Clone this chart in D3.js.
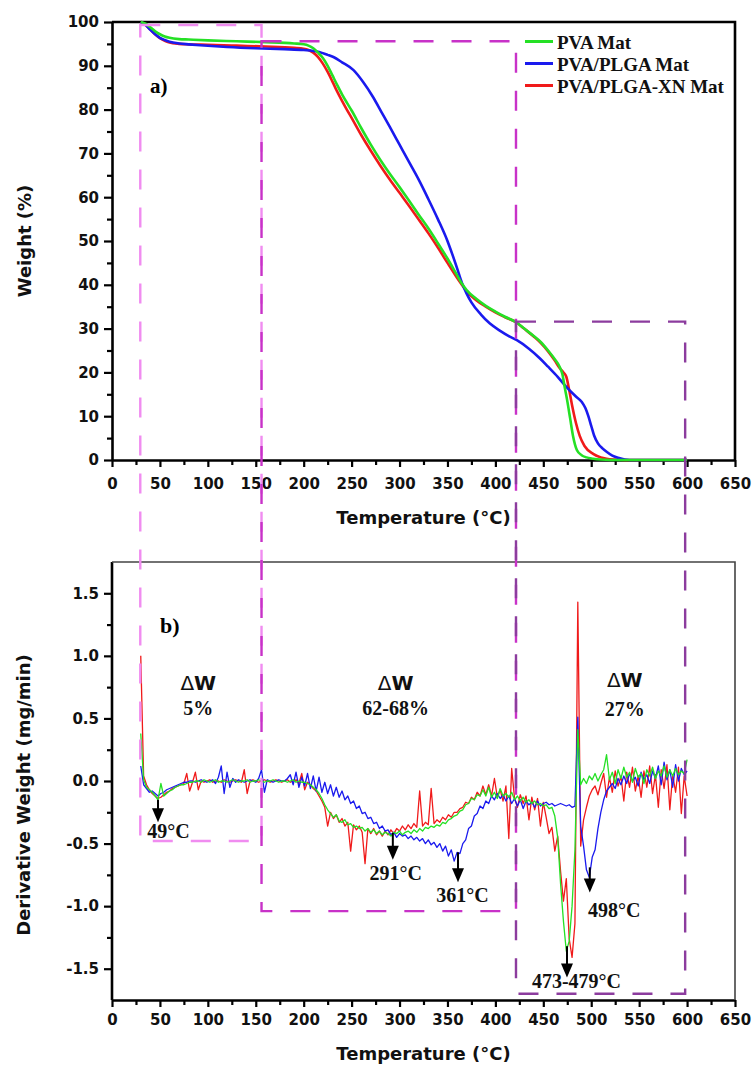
<!DOCTYPE html>
<html><head><meta charset="utf-8">
<script src="https://cdn.jsdelivr.net/npm/d3@7"></script>
<style>body{margin:0;background:#fff}svg{display:block}</style>
</head><body>
<svg id="c" width="752" height="1067"></svg>
<script>
// ---------- DATA ----------
const xTicks = [0,50,100,150,200,250,300,350,400,450,500,550,600,650];
const tgaYTicks = [0,10,20,30,40,50,60,70,80,90,100];
const dtgYTicks = [-1.5,-1.0,-0.5,0.0,0.5,1.0,1.5];
const seriesNames = ["PVA Mat","PVA/PLGA Mat","PVA/PLGA-XN Mat"];

// TGA curves [temperature °C, weight %]
const tgaPVA = [[30,100],[35,99.6],[40,98.8],[45,97.9],[50,97.2],[55,96.7],[60,96.4],[70,96.1],[80,96.0],[100,95.8],[130,95.6],[160,95.4],[190,95.1],[200,94.9],[205,94.6],[210,94.0],[215,93.0],[220,91.8],[225,90.0],[230,87.8],[235,85.6],[240,83.5],[245,81.6],[250,79.8],[260,75.8],[270,72.0],[280,68.5],[290,65.3],[300,62.3],[310,59.2],[320,56.0],[330,52.9],[340,49.5],[350,46.0],[360,42.2],[365,40.3],[370,38.8],[380,36.8],[390,35.2],[400,33.9],[410,32.7],[422,31.4],[430,30.0],[440,28.3],[447,27.0],[455,25.0],[462,23.0],[467,21.3],[470,19.5],[472,17.0],[475,13.5],[478,9.5],[481,5.5],[485,2.3],[490,1.1],[495,0.6],[502,0.3],[510,0.1],[520,0],[600,0]];
const tgaPLGA = [[30,100],[35,99.3],[40,98.2],[45,97.2],[50,96.4],[55,95.9],[60,95.5],[70,95.1],[80,94.9],[92,94.7],[120,94.3],[150,94.0],[180,93.8],[200,93.6],[215,93.2],[225,92.5],[231,92.0],[240,90.8],[252,89.0],[262,86.3],[272,83.0],[281,79.5],[290,76.0],[300,72.0],[310,68.0],[320,64.0],[330,59.6],[340,55.0],[350,50.0],[355,47.0],[360,43.8],[365,40.5],[370,38.0],[375,36.0],[385,33.2],[394,31.2],[405,29.5],[414,28.3],[422,27.4],[435,25.4],[446,23.3],[455,21.3],[465,19.0],[474,16.7],[484,14.5],[490,13.3],[494,11.8],[497,10.0],[500,7.8],[503,5.6],[507,3.8],[512,2.6],[516,1.9],[522,1.0],[528,0.5],[535,0.1],[540,0],[600,0]];
const tgaXN = [[30,100],[35,99.4],[40,98.3],[45,97.2],[50,96.3],[55,95.7],[60,95.3],[70,95.0],[80,94.9],[100,94.8],[130,94.6],[160,94.4],[190,94.1],[200,93.9],[205,93.6],[210,93.0],[215,92.0],[220,90.5],[225,88.6],[230,86.4],[235,84.1],[240,82.0],[245,80.0],[250,78.1],[260,74.2],[270,70.6],[280,67.2],[290,64.0],[300,61.0],[310,58.0],[320,54.9],[330,51.8],[340,48.5],[350,45.0],[360,41.6],[365,40.0],[370,38.5],[380,36.5],[390,35.0],[400,33.7],[410,32.6],[422,31.4],[430,30.0],[440,28.2],[447,26.8],[455,24.8],[462,22.7],[467,21.0],[471,20.0],[474,19.0],[477,16.0],[480,12.5],[484,8.5],[488,5.5],[493,3.2],[502,1.4],[510,0.6],[516,0.3],[525,0.1],[535,0],[600,0]];

// DTG curves (derivative weight, mg/min) sampled at these temperatures
const dtgTemps = [30,33,36,39,42,45,48,51,54,57,
 60,63,66,69,72,75,78,81,84,87,
 90,93,96,99,102,105,108,111,114,117,
 120,123,126,129,132,135,138,141,144,147,
 150,153,156,159,162,165,168,171,174,177,
 180,183,186,189,192,195,198,201,204,207,
 210,213,216,219,222,225,228,231,234,237,
 240,243,246,249,252,255,258,261,264,267,
 270,273,276,279,282,285,288,291,294,297,
 300,303,306,309,312,315,318,321,324,327,
 330,333,336,339,342,345,348,351,354,357,
 360,363,366,369,372,375,378,381,384,387,
 390,393,396,399,402,405,408,411,414,417,
 420,423,426,429,432,435,438,441,444,447,
 450,453,456,459,462,465,468,471,474,477,
 480,483,486,489,492,495,498,501,504,507,
 510,513,516,519,522,525,528,531,534,537,
 540,543,546,549,552,555,558,561,564,567,
 570,573,576,579,582,585,588,591,594,597,
 600];
const dtgPVA = [0.38,0.01,-0.05,-0.07,-0.09,-0.12,-0.15,-0.02,-0.12,-0.10,
 -0.08,-0.07,-0.05,-0.04,-0.03,-0.03,-0.02,-0.01,-0.01,0.00,
 0.00,-0.01,0.01,0.00,-0.01,0.00,0.01,-0.01,0.00,0.00,
 -0.01,0.00,0.01,0.00,-0.01,0.00,0.00,0.01,-0.01,0.00,
 0.00,0.01,0.00,-0.01,0.00,0.00,0.01,0.00,-0.01,0.00,
 0.00,-0.01,0.00,0.01,-0.01,0.00,-0.01,-0.01,-0.02,-0.03,
 -0.05,-0.07,-0.10,-0.14,-0.19,-0.23,-0.26,-0.29,-0.27,-0.32,
 -0.33,-0.31,-0.35,-0.34,-0.37,-0.36,-0.38,-0.37,-0.40,-0.38,
 -0.41,-0.39,-0.42,-0.40,-0.43,-0.41,-0.42,-0.44,-0.41,-0.42,
 -0.40,-0.43,-0.41,-0.40,-0.42,-0.39,-0.41,-0.38,-0.40,-0.37,
 -0.38,-0.36,-0.37,-0.35,-0.36,-0.33,-0.34,-0.31,-0.30,-0.28,
 -0.27,-0.24,-0.23,-0.19,-0.18,-0.14,-0.15,-0.11,-0.12,-0.07,
 -0.12,-0.05,-0.13,-0.09,-0.14,-0.06,-0.12,-0.10,-0.13,-0.09,
 -0.15,-0.12,-0.16,-0.13,-0.17,-0.15,-0.18,-0.16,-0.19,-0.18,
 -0.20,-0.19,-0.22,-0.21,-0.28,-0.45,-0.82,-1.12,-1.36,-1.28,
 -1.00,-0.55,0.41,-0.03,0.02,-0.02,0.04,0.01,0.06,0.00,
 0.05,0.09,0.21,0.01,0.07,-0.02,0.09,0.02,0.11,0.03,
 0.07,-0.01,0.10,0.03,0.06,-0.02,0.09,0.04,0.11,0.02,
 0.08,0.04,0.12,0.03,0.09,0.04,0.10,0.05,0.08,0.06,
 0.17];
const dtgPLGA = [0.12,-0.03,-0.06,-0.09,-0.08,-0.10,-0.12,-0.10,-0.09,-0.07,
 -0.06,-0.05,-0.04,-0.03,-0.02,-0.01,-0.01,0.00,0.00,-0.01,
 0.00,0.01,0.00,-0.01,0.00,0.01,-0.02,0.03,0.12,-0.10,
 0.07,-0.05,0.02,-0.01,0.01,0.00,-0.01,0.00,0.01,0.00,
 -0.01,0.02,0.09,-0.09,0.01,0.00,-0.01,0.00,0.01,0.00,
 0.00,0.02,0.05,-0.03,0.07,-0.05,0.03,-0.04,0.06,-0.06,
 0.04,-0.08,0.03,-0.09,-0.01,-0.10,-0.03,-0.12,-0.05,-0.13,
 -0.08,-0.15,-0.12,-0.18,-0.16,-0.22,-0.20,-0.26,-0.25,-0.30,
 -0.29,-0.34,-0.33,-0.38,-0.36,-0.40,-0.39,-0.43,-0.41,-0.45,
 -0.42,-0.44,-0.43,-0.46,-0.44,-0.47,-0.45,-0.48,-0.46,-0.50,
 -0.47,-0.51,-0.49,-0.53,-0.50,-0.56,-0.52,-0.60,-0.55,-0.64,
 -0.57,-0.58,-0.50,-0.47,-0.38,-0.36,-0.28,-0.26,-0.20,-0.22,
 -0.16,-0.18,-0.12,-0.15,-0.10,-0.14,-0.11,-0.16,-0.12,-0.18,
 -0.14,-0.20,-0.15,-0.22,-0.16,-0.19,-0.17,-0.21,-0.16,-0.20,
 -0.18,-0.17,-0.19,-0.18,-0.20,-0.19,-0.18,-0.19,-0.20,-0.19,
 -0.21,-0.20,0.51,-0.36,-0.52,-0.71,-0.77,-0.61,-0.55,-0.38,
 -0.25,-0.15,-0.08,-0.05,-0.02,-0.06,0.02,-0.03,0.04,-0.02,
 0.06,0.00,0.03,-0.04,0.07,0.01,0.05,-0.02,0.08,0.02,
 0.12,-0.03,0.15,0.01,0.09,-0.05,0.13,0.00,0.10,0.05,
 0.08];
const dtgXN = [1.00,0.04,-0.03,-0.07,-0.10,-0.12,-0.14,-0.13,-0.11,-0.09,
 -0.08,-0.06,-0.05,-0.04,-0.03,-0.02,0.06,-0.08,-0.01,0.07,
 -0.07,0.00,-0.01,0.00,0.01,-0.01,0.00,0.00,-0.01,0.01,
 0.00,-0.01,0.00,0.01,0.00,-0.01,0.09,-0.10,0.00,0.01,
 0.00,-0.01,0.00,0.01,0.00,-0.01,0.00,0.01,0.00,-0.01,
 0.00,0.01,-0.01,0.00,0.01,-0.02,0.06,-0.07,-0.01,-0.03,
 -0.06,-0.08,-0.12,-0.16,-0.21,-0.36,-0.25,-0.30,-0.27,-0.33,
 -0.30,-0.36,-0.33,-0.56,-0.35,-0.39,-0.36,-0.41,-0.66,-0.38,
 -0.42,-0.38,-0.43,-0.40,-0.44,-0.40,-0.43,-0.39,-0.42,-0.38,
 -0.40,-0.36,-0.39,-0.35,-0.38,-0.34,-0.37,-0.08,-0.36,-0.33,
 -0.35,-0.06,-0.34,-0.31,-0.33,-0.29,-0.31,-0.27,-0.29,-0.25,
 -0.25,-0.22,-0.21,-0.17,-0.18,-0.13,-0.15,-0.09,-0.12,-0.04,
 -0.11,-0.03,-0.12,0.02,-0.13,-0.07,-0.16,-0.04,-0.46,0.10,
 -0.14,-0.21,-0.11,-0.18,-0.12,-0.31,-0.13,-0.23,-0.14,-0.36,
 -0.17,-0.29,-0.42,-0.37,-0.56,-0.44,-0.72,-0.96,-0.78,-1.26,
 -1.41,-1.14,1.43,-0.52,-0.31,-0.21,-0.12,-0.07,-0.04,-0.11,
 -0.02,0.06,-0.13,0.03,-0.09,0.08,-0.04,0.04,-0.16,0.07,
 -0.05,0.11,-0.08,0.04,-0.13,0.08,-0.05,0.12,-0.10,0.05,
 -0.21,0.09,-0.06,0.13,-0.23,0.05,-0.09,0.11,-0.26,0.04,
 -0.12];

// Dashed stage boxes: temperature range, top (weight %), bottom (derivative)
const boxT0 = [29.5, 156, 421.5];
const boxT1 = [156, 421.5, 598];
const boxTopW = [99.3, 95.6, 31.6];
const boxBottomD = [-0.48, -1.04, -1.70];

// Stage labels (ΔW line and percentage line, in derivative units)
const stageLabels = ["5%","62-68%","27%"];
const stageT = [90, 296, 535];
const stageDW = [0.727, 0.727, 0.75];
const stagePct = [0.53, 0.53, 0.52];

// Peak annotations
const peakLabels = ["49°C","291°C","361°C","498°C","473-479°C"];
const peakT = [48, 293, 361, 498.5, 474.7];
const arrowFrom = [-0.15, -0.415, -0.57, -0.69, -1.32];
const arrowTo = [-0.33, -0.63, -0.81, -0.89, -1.57];
const labelT = [59, 296, 365.7, 524, 484.6];
const labelD = [-0.455, -0.79, -0.97, -1.085, -1.655];

// ---------- STYLE ----------
const colors = {"PVA Mat":"#25e025","PVA/PLGA Mat":"#1a1aee","PVA/PLGA-XN Mat":"#f01a1a"};
const boxColors = ["#f08cf0","#c832c8","#8c3c9e"];
const sansB = "'DejaVu Sans', sans-serif";
const serif = "'Liberation Serif','Times New Roman', serif";

const svg = d3.select("#c");
const x = d3.scaleLinear().domain([0,650]).range([112,735]);
const yT = d3.scaleLinear().domain([0,100]).range([460,22]);
const yB = d3.scaleLinear().domain([-1.75,1.75]).range([1000,562]);

function minorTicks(major){ const r=[]; for(let i=0;i<major.length-1;i++) r.push((major[i]+major[i+1])/2); return r; }

function styleAxis(g){
  g.select(".domain").attr("stroke","#000").attr("stroke-width",2.6);
  g.selectAll(".tick line").attr("stroke","#000").attr("stroke-width",2.2);
  g.selectAll("text").attr("font-family",sansB).attr("font-weight","bold").attr("font-size",15).attr("fill","#111");
}

// ---- Top panel axes
const gxT = svg.append("g").attr("transform","translate(0,460)")
  .call(d3.axisBottom(x).tickValues(xTicks).tickSize(7).tickSizeOuter(0).tickFormat(d3.format("d")));
styleAxis(gxT); gxT.selectAll("text").attr("dy",null).attr("y",29);
const gxTm = svg.append("g").attr("transform","translate(0,460)")
  .call(d3.axisBottom(x).tickValues(minorTicks(xTicks)).tickSize(5).tickSizeOuter(0).tickFormat(""));
styleAxis(gxTm); gxTm.select(".domain").remove();

const gyT = svg.append("g").attr("transform","translate(112,0)")
  .call(d3.axisLeft(yT).tickValues(tgaYTicks).tickSize(8).tickPadding(5).tickSizeOuter(0));
styleAxis(gyT);
const gyTm = svg.append("g").attr("transform","translate(112,0)")
  .call(d3.axisLeft(yT).tickValues(minorTicks(tgaYTicks)).tickSize(5).tickFormat(""));
styleAxis(gyTm); gyTm.select(".domain").remove();

// frame top panel
svg.append("path").attr("d",`M${x(0)},${yT(100)}H${x(650)}V${yT(0)}`).attr("fill","none").attr("stroke","#000").attr("stroke-width",2.6);

// ---- Bottom panel axes
const gxB = svg.append("g").attr("transform","translate(0,1000)")
  .call(d3.axisBottom(x).tickValues(xTicks).tickSize(7).tickSizeOuter(0).tickFormat(d3.format("d")));
styleAxis(gxB); gxB.selectAll("text").attr("dy",null).attr("y",25);
const gxBm = svg.append("g").attr("transform","translate(0,1000)")
  .call(d3.axisBottom(x).tickValues(minorTicks(xTicks)).tickSize(5).tickFormat(""));
styleAxis(gxBm); gxBm.select(".domain").remove();

const gyB = svg.append("g").attr("transform","translate(112,0)")
  .call(d3.axisLeft(yB).tickValues(dtgYTicks).tickSize(8).tickPadding(5).tickSizeOuter(0).tickFormat(d3.format(".1f")));
styleAxis(gyB);
gyB.selectAll("text").text(d=>d3.format(".1f")(d).replace("−","-"));
const gyBm = svg.append("g").attr("transform","translate(112,0)")
  .call(d3.axisLeft(yB).tickValues(minorTicks(dtgYTicks)).tickSize(5).tickFormat(""));
styleAxis(gyBm); gyBm.select(".domain").remove();
gyB.select(".domain").attr("d",`M0,${yB(1.75)}V${yB(-1.75)}`);
svg.append("path").attr("d",`M${x(0)},${yB(1.75)}H${x(650)}V${yB(-1.75)}`).attr("fill","none").attr("stroke","#444").attr("stroke-width",1.6);

// ---- Axis titles
function title(txt,tx,ty,rot){
  svg.append("text").attr("transform",`translate(${tx},${ty}) rotate(${rot})`).attr("text-anchor","middle")
    .attr("font-family",sansB).attr("font-weight","bold").attr("font-size",18).attr("fill","#111").text(txt);
}
title("Temperature (°C)", 423.5, 524, 0);
title("Temperature (°C)", 423.5, 1060, 0);
title("Weight (%)", 31, 241, -90);
title("Derivative Weight (mg/min)", 30, 795, -90);

// ---- TGA curves
const lineT = d3.line().x(d=>x(d[0])).y(d=>yT(d[1])).curve(d3.curveMonotoneX);
const tga = [["PVA/PLGA-XN Mat",tgaXN],["PVA/PLGA Mat",tgaPLGA],["PVA Mat",tgaPVA]];
tga.forEach(([n,d])=>{
  svg.append("path").attr("d",lineT(d)).attr("fill","none").attr("stroke",colors[n]).attr("stroke-width",2.6).attr("stroke-linejoin","round");
});

// ---- DTG curves
const lineB = d3.line().x((d,i)=>x(dtgTemps[i])).y(d=>yB(d));
const dtg = [["PVA/PLGA-XN Mat",dtgXN],["PVA/PLGA Mat",dtgPLGA],["PVA Mat",dtgPVA]];
dtg.forEach(([n,d])=>{
  svg.append("path").attr("d",lineB(d)).attr("fill","none").attr("stroke",colors[n]).attr("stroke-width",1.3).attr("stroke-linejoin","round");
});

// ---- Dashed boxes
boxT0.forEach((t0,i)=>{
  svg.append("path")
    .attr("d",`M${x(t0)},${yT(boxTopW[i])}H${x(boxT1[i])}V${yB(boxBottomD[i])}H${x(t0)}Z`)
    .attr("fill","none").attr("stroke",boxColors[i]).attr("stroke-width",2.4).attr("stroke-dasharray","20,18");
});

// ---- Legend
seriesNames.forEach((n,i)=>{
  const ly = 41.5 + i*22;
  svg.append("line").attr("x1",525).attr("x2",553).attr("y1",ly).attr("y2",ly).attr("stroke",colors[n]).attr("stroke-width",3);
  svg.append("text").attr("x",557).attr("y",ly+7).attr("font-family",serif).attr("font-weight","bold").attr("font-size",19).attr("fill","#111").text(n);
});

// ---- Panel letters
svg.append("text").attr("x",150).attr("y",93).attr("font-family",serif).attr("font-weight","bold").attr("font-size",21).text("a)");
svg.append("text").attr("x",160).attr("y",633).attr("font-family",serif).attr("font-weight","bold").attr("font-size",22).text("b)");

// ---- Stage labels
stageLabels.forEach((s,i)=>{
  const t = svg.append("text").attr("x",x(stageT[i])).attr("y",yB(stageDW[i])).attr("text-anchor","middle")
    .attr("font-family",sansB).attr("font-size",20).attr("fill","#111");
  t.append("tspan").attr("font-weight","normal").text("Δ");
  t.append("tspan").attr("font-weight","bold").text("W");
  svg.append("text").attr("x",x(stageT[i])).attr("y",yB(stagePct[i])).attr("text-anchor","middle")
    .attr("font-family",serif).attr("font-weight","bold").attr("font-size",20).attr("fill","#111").text(s);
});

// ---- Peak arrows & labels
peakLabels.forEach((s,i)=>{
  const ax = x(peakT[i]), y0 = yB(arrowFrom[i]), y1 = yB(arrowTo[i]);
  svg.append("line").attr("x1",ax).attr("x2",ax).attr("y1",y0).attr("y2",y1-10).attr("stroke","#000").attr("stroke-width",2);
  svg.append("path").attr("d",`M${ax-6},${y1-14}L${ax+6},${y1-14}L${ax},${y1}Z`).attr("fill","#000");
  svg.append("text").attr("x",x(labelT[i])).attr("y",yB(labelD[i])).attr("text-anchor","middle")
    .attr("font-family",serif).attr("font-weight","bold").attr("font-size",20).attr("fill","#111").text(s);
});
</script>
</body></html>
